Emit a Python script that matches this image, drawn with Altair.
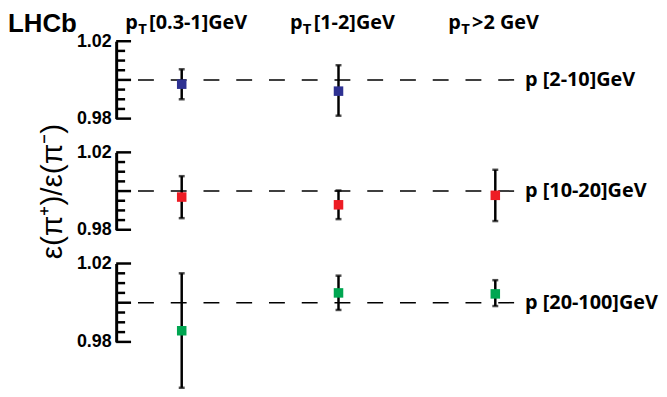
import altair as alt
import pandas as pd

# ---- data ----
pt_bins = ["[0.3-1]GeV", "[1-2]GeV", ">2 GeV"]
pt_label_x = [-0.36, 0.69, 1.70]
p_bins = ["p [2-10]GeV", "p [10-20]GeV", "p [20-100]GeV"]
colors = ["#2e3192", "#ed1c24", "#00a651"]

# panel 1 : p [2-10] GeV
p1_bin = [0, 1]
p1_val = [0.9978, 0.9942]
p1_lo = [0.9900, 0.9815]
p1_hi = [1.0055, 1.0076]

# panel 2 : p [10-20] GeV
p2_bin = [0, 1, 2]
p2_val = [0.9969, 0.9929, 0.9978]
p2_lo = [0.9860, 0.9855, 0.9845]
p2_hi = [1.0077, 1.0003, 1.0110]

# panel 3 : p [20-100] GeV
p3_bin = [0, 1, 2]
p3_val = [0.9857, 1.0050, 1.0045]
p3_lo = [0.9566, 0.9963, 0.9983]
p3_hi = [1.0150, 1.0138, 1.0115]

major_ticks = [0.98, 1.0, 1.02]
minor_ticks = [0.985, 0.99, 0.995, 1.005, 1.01, 1.015]
ref_value = [1.0]

Y_TITLE = "ε(π⁺)/ε(π⁻)"
W, H = 401, 78
xsc = alt.Scale(domain=[-0.418, 2.12], nice=False, zero=False)
ysc = alt.Scale(domain=[0.98, 1.02], nice=False, zero=False)


def make_panel(idx, bins, vals, los, his, show_title=False, top=False, h=H):
    title = Y_TITLE if show_title else None
    axis = alt.Axis(
        values=major_ticks,
        labelExpr="datum.value == 1 ? '1' : format(datum.value, '.2f')",
        ticks=False, grid=False,
        domainColor="black", domainWidth=3,
        labelFont="Liberation Sans", labelFontWeight="bold",
        labelFontSize=18, labelColor="black", labelPadding=5,
        titleFont="Liberation Sans", titleFontWeight="normal",
        titleFontSize=30, titleColor="black", titlePadding=9,
    )
    df = pd.DataFrame({"bin": bins, "v": vals, "lo": los, "hi": his})
    ref = pd.DataFrame({"v": ref_value})
    maj = pd.DataFrame({"v": major_ticks})
    mnr = pd.DataFrame({"v": minor_ticks})

    base_ref = alt.Chart(ref).mark_rule(
        color="black", strokeWidth=1.5, strokeDash=[16, 17]
    ).encode(
        y=alt.Y("v:Q", scale=ysc, axis=axis, title=title),
        x=alt.value(22), x2=alt.value(W),
    )
    tick_major = alt.Chart(maj).mark_rule(color="black", strokeWidth=2.5).encode(
        y=alt.Y("v:Q", scale=ysc, title=title), x=alt.value(0), x2=alt.value(15)
    )
    tick_minor = alt.Chart(mnr).mark_rule(color="black", strokeWidth=2.5).encode(
        y=alt.Y("v:Q", scale=ysc, title=title), x=alt.value(0), x2=alt.value(9)
    )
    bars = alt.Chart(df).mark_rule(color="black", strokeWidth=2.5).encode(
        x=alt.X("bin:Q", scale=xsc, axis=None),
        y=alt.Y("lo:Q", scale=ysc, title=title), y2="hi:Q",
    )
    cap_lo = alt.Chart(df).mark_tick(
        color="black", orient="horizontal", size=6, thickness=2.5
    ).encode(x=alt.X("bin:Q", scale=xsc, axis=None),
             y=alt.Y("lo:Q", scale=ysc, title=title))
    cap_hi = alt.Chart(df).mark_tick(
        color="black", orient="horizontal", size=6, thickness=2.5
    ).encode(x=alt.X("bin:Q", scale=xsc, axis=None),
             y=alt.Y("hi:Q", scale=ysc, title=title))
    pts = alt.Chart(df).mark_square(
        size=92, color=colors[idx], opacity=1, filled=True
    ).encode(x=alt.X("bin:Q", scale=xsc, axis=None),
             y=alt.Y("v:Q", scale=ysc, title=title))
    lab = alt.Chart(pd.DataFrame({"bin": [2.12], "v": ref_value, "t": [p_bins[idx]]})).mark_text(
        align="left", baseline="middle", dx=11, font="Open Sans",
        fontWeight="bold", fontSize=20, color="black",
    ).encode(x=alt.X("bin:Q", scale=xsc, axis=None),
             y=alt.Y("v:Q", scale=ysc, title=title), text="t:N")

    layers = [base_ref, tick_major, tick_minor, bars, cap_lo, cap_hi, pts, lab]

    if top:
        tdf = pd.DataFrame({"bin": pt_label_x, "t": pt_bins})
        tstyle = dict(align="left", baseline="middle", font="Open Sans",
                      fontWeight="bold", color="black")
        tp = alt.Chart(tdf).mark_text(text="p", fontSize=20, **tstyle).encode(
            x=alt.X("bin:Q", scale=xsc, axis=None), y=alt.value(-18))
        tT = alt.Chart(tdf).mark_text(text="T", fontSize=15, dx=13, dy=6, **tstyle).encode(
            x=alt.X("bin:Q", scale=xsc, axis=None), y=alt.value(-18))
        trest = alt.Chart(tdf).mark_text(fontSize=20, dx=24, **tstyle).encode(
            x=alt.X("bin:Q", scale=xsc, axis=None), y=alt.value(-18), text="t:N")
        lhcb = alt.Chart(pd.DataFrame({"t": ["LHCb"]})).mark_text(
            align="left", baseline="middle", font="Liberation Sans",
            fontWeight="bold", fontSize=26, color="black",
        ).encode(x=alt.value(-109), y=alt.value(-17), text="t:N")
        layers += [tp, tT, trest, lhcb]

    return alt.layer(*layers).properties(width=W, height=h)


chart = alt.vconcat(
    make_panel(0, p1_bin, p1_val, p1_lo, p1_hi, top=True),
    make_panel(1, p2_bin, p2_val, p2_lo, p2_hi, show_title=True),
    make_panel(2, p3_bin, p3_val, p3_lo, p3_hi, h=79),
    spacing=34,
    bounds="flush",
).properties(
    padding={"left": 0, "top": 2, "right": 0, "bottom": 0},
    background="white",
).configure_view(stroke=None)

chart.save("out.html", embed_options={"renderer": "svg", "actions": False})
